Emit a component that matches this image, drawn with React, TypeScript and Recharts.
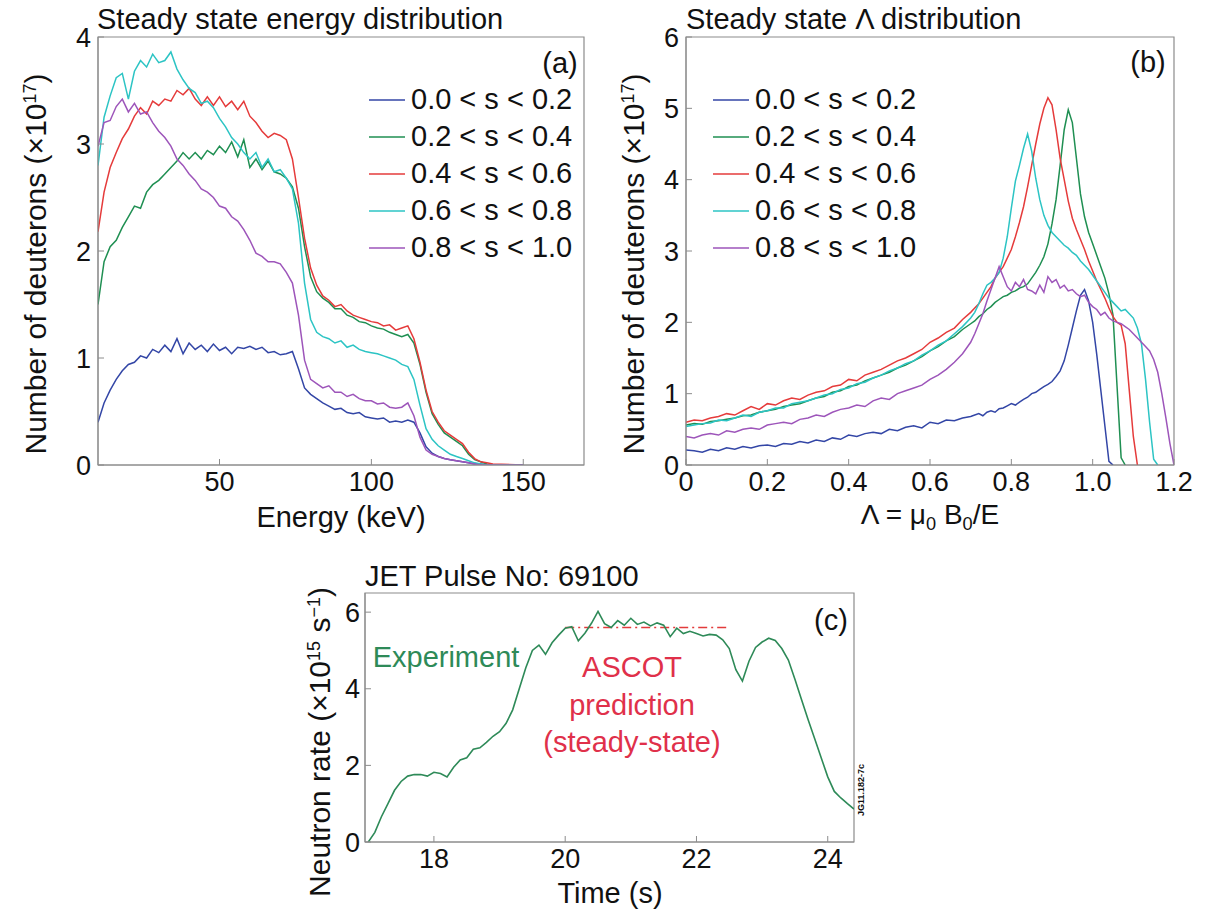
import React from "react";
import { LineChart, Line, XAxis, YAxis, ReferenceArea, ReferenceLine, Legend } from "recharts";

const FONT = "'Liberation Sans', Arial, Helvetica, sans-serif";
const AXIS_GREY = "#8c8c8c";

const SERIES_NAMES = ["0.0 < s < 0.2", "0.2 < s < 0.4", "0.4 < s < 0.6", "0.6 < s < 0.8", "0.8 < s < 1.0"];
const SERIES_COLORS = ["#3346a6", "#1f8f52", "#e53b3b", "#2cc4c4", "#9d55ba"];

// (a) steady state energy distribution, keV
const energyKeV = [
  10, 12, 14, 16, 18, 20, 22, 24, 26, 28, 30, 32, 34, 36, 38, 40, 42, 44, 46, 48,
  50, 52, 54, 56, 58, 60, 62, 64, 66, 68, 70, 72, 74, 76, 78, 80, 82, 84, 86, 88,
  90, 92, 94, 96, 98, 100, 102, 104, 106, 108, 110, 112, 114, 116, 118, 120, 122, 124, 126, 128,
  130, 132, 134, 136, 138, 140, 150,
];
const energyS1 = [
  0.40, 0.58, 0.70, 0.80, 0.88, 0.94, 0.96, 1.02, 1.00, 1.08,
  1.05, 1.12, 1.06, 1.18, 1.04, 1.14, 1.08, 1.12, 1.06, 1.13,
  1.07, 1.10, 1.04, 1.10, 1.09, 1.11, 1.08, 1.10, 1.05, 1.06,
  1.03, 1.04, 1.06, 0.90, 0.72, 0.66, 0.62, 0.58, 0.55, 0.52,
  0.53, 0.49, 0.48, 0.49, 0.45, 0.44, 0.43, 0.44, 0.40, 0.41,
  0.40, 0.42, 0.40, 0.30, 0.17, 0.11, 0.08, 0.06, 0.05, 0.04,
  0.03, 0.02, 0.01, 0.01, 0.0, 0.0, 0,
];
const energyS2 = [
  1.50, 1.90, 2.04, 2.10, 2.22, 2.32, 2.42, 2.40, 2.55, 2.62,
  2.66, 2.72, 2.78, 2.84, 2.92, 2.86, 2.92, 2.86, 2.94, 2.90,
  2.98, 2.92, 3.02, 2.88, 3.04, 2.78, 2.86, 2.76, 2.84, 2.74,
  2.72, 2.68, 2.60, 2.40, 2.04, 1.76, 1.62, 1.56, 1.52, 1.46,
  1.46, 1.40, 1.38, 1.34, 1.33, 1.30, 1.28, 1.27, 1.24, 1.22,
  1.20, 1.22, 1.14, 0.94, 0.68, 0.48, 0.38, 0.30, 0.26, 0.22,
  0.18, 0.10, 0.05, 0.03, 0.01, 0.0, 0,
];
const energyS3 = [
  2.18, 2.55, 2.78, 2.92, 3.05, 3.14, 3.26, 3.34, 3.28, 3.40,
  3.36, 3.42, 3.40, 3.50, 3.46, 3.52, 3.42, 3.36, 3.44, 3.36,
  3.44, 3.35, 3.40, 3.32, 3.40, 3.26, 3.20, 3.12, 3.06, 3.10,
  3.08, 3.04, 2.86, 2.50, 2.12, 1.84, 1.68, 1.58, 1.54, 1.48,
  1.50, 1.44, 1.40, 1.38, 1.36, 1.34, 1.33, 1.30, 1.31, 1.26,
  1.28, 1.30, 1.18, 0.96, 0.70, 0.50, 0.40, 0.32, 0.28, 0.24,
  0.20, 0.12, 0.06, 0.03, 0.02, 0.01, 0,
];
const energyS4 = [
  2.80, 3.25, 3.45, 3.62, 3.66, 3.42, 3.68, 3.78, 3.72, 3.84,
  3.76, 3.78, 3.86, 3.70, 3.60, 3.52, 3.48, 3.38, 3.40, 3.34,
  3.24, 3.16, 3.06, 3.00, 2.92, 2.86, 2.92, 2.78, 2.86, 2.74,
  2.76, 2.68, 2.58, 2.26, 1.70, 1.36, 1.24, 1.20, 1.18, 1.14,
  1.16, 1.10, 1.12, 1.08, 1.06, 1.05, 1.04, 1.02, 1.00, 0.98,
  0.94, 0.92, 0.80, 0.56, 0.34, 0.24, 0.18, 0.14, 0.10, 0.08,
  0.06, 0.04, 0.02, 0.01, 0.0, 0.0, 0,
];
const energyS5 = [
  2.98, 3.20, 3.22, 3.35, 3.42, 3.30, 3.38, 3.28, 3.30, 3.20,
  3.12, 3.06, 2.98, 2.86, 2.80, 2.72, 2.66, 2.58, 2.55, 2.50,
  2.42, 2.40, 2.32, 2.28, 2.20, 2.10, 1.98, 1.95, 1.90, 1.90,
  1.88, 1.80, 1.70, 1.40, 0.98, 0.80, 0.76, 0.72, 0.74, 0.68,
  0.68, 0.64, 0.66, 0.62, 0.60, 0.60, 0.57, 0.58, 0.54, 0.53,
  0.54, 0.58, 0.46, 0.26, 0.14, 0.10, 0.08, 0.06, 0.05, 0.04,
  0.03, 0.02, 0.01, 0.0, 0.0, 0.0, 0,
];
const energyTicks = [50, 100, 150];
const energyYTicks = [0, 1, 2, 3, 4];

// (b) steady state pitch (Lambda) distribution
const lambdaGrid = [
  0, 0.02, 0.04, 0.06, 0.08, 0.1, 0.12, 0.14, 0.16, 0.18, 0.2, 0.22, 0.24, 0.26, 0.28, 0.3, 0.32, 0.34,
  0.36, 0.38, 0.4, 0.42, 0.44, 0.46, 0.48, 0.5, 0.52, 0.54, 0.56, 0.58, 0.6, 0.62, 0.64, 0.66, 0.68, 0.7,
  0.71, 0.72, 0.73, 0.74, 0.75, 0.76, 0.77, 0.78, 0.79, 0.8,
  0.81, 0.82, 0.83, 0.84, 0.85, 0.86, 0.87, 0.88, 0.89, 0.9,
  0.91, 0.92, 0.93, 0.94, 0.95, 0.96, 0.97, 0.98, 0.99, 1.0,
  1.01, 1.02, 1.03, 1.04, 1.05, 1.06, 1.07, 1.08, 1.09, 1.1,
  1.11, 1.12, 1.13, 1.14, 1.15, 1.16, 1.17, 1.18, 1.19, 1.2,
];
const lambdaS1 = [
  0.21, 0.20, 0.18, 0.22, 0.20, 0.24, 0.22, 0.26, 0.24, 0.27, 0.28, 0.26, 0.30, 0.29, 0.33, 0.31, 0.35, 0.33,
  0.38, 0.36, 0.42, 0.40, 0.44, 0.46, 0.44, 0.50, 0.48, 0.53, 0.55, 0.52, 0.60, 0.58, 0.63, 0.62, 0.66, 0.68,
  0.70, 0.72, 0.69, 0.74, 0.76, 0.74, 0.79, 0.80, 0.83, 0.86,
  0.84, 0.88, 0.92, 0.95, 1.00, 1.02, 1.06, 1.10, 1.13, 1.17,
  1.24, 1.32, 1.46, 1.68, 1.92, 2.16, 2.38, 2.46, 2.30, 2.00,
  1.55, 1.05, 0.55, 0.05, 0, null, null, null, null, null,
  null, null, null, null, null, null, null, null, null, null,
];
const lambdaS2 = [
  0.56, 0.58, 0.57, 0.61, 0.62, 0.64, 0.66, 0.69, 0.70, 0.74, 0.76, 0.78, 0.82, 0.84, 0.86, 0.90, 0.94, 0.96,
  1.02, 1.04, 1.10, 1.12, 1.18, 1.22, 1.26, 1.30, 1.36, 1.40, 1.46, 1.52, 1.60, 1.66, 1.74, 1.80, 1.90, 1.98,
  2.02, 2.08, 2.12, 2.18, 2.22, 2.28, 2.32, 2.36, 2.38, 2.42,
  2.44, 2.48, 2.50, 2.54, 2.62, 2.70, 2.80, 2.92, 3.10, 3.38,
  3.72, 4.20, 4.70, 4.98, 4.80, 4.30, 3.80, 3.48, 3.26, 3.10,
  2.94, 2.78, 2.62, 2.40, 2.10, 1.10, 0.10, 0, null, null,
  null, null, null, null, null, null, null, null, null, null,
];
const lambdaS3 = [
  0.60, 0.63, 0.62, 0.66, 0.68, 0.72, 0.70, 0.76, 0.82, 0.78, 0.86, 0.84, 0.90, 0.94, 0.92, 0.98, 1.02, 1.04,
  1.10, 1.12, 1.20, 1.18, 1.26, 1.30, 1.34, 1.40, 1.46, 1.50, 1.56, 1.62, 1.72, 1.78, 1.86, 1.92, 2.04, 2.14,
  2.20, 2.26, 2.34, 2.42, 2.50, 2.62, 2.70, 2.78, 2.90, 3.02,
  3.20, 3.40, 3.62, 3.90, 4.20, 4.50, 4.78, 5.00, 5.15, 5.05,
  4.70, 4.30, 4.00, 3.70, 3.46, 3.30, 3.16, 3.02, 2.86, 2.72,
  2.58, 2.46, 2.34, 2.20, 2.08, 2.00, 1.96, 1.70, 1.05, 0.40,
  0, null, null, null, null, null, null, null, null, null,
];
const lambdaS4 = [
  0.54, 0.56, 0.58, 0.59, 0.63, 0.62, 0.66, 0.70, 0.68, 0.74, 0.76, 0.80, 0.80, 0.86, 0.88, 0.90, 0.94, 0.98,
  1.00, 1.06, 1.08, 1.14, 1.16, 1.22, 1.26, 1.32, 1.36, 1.42, 1.46, 1.54, 1.60, 1.68, 1.74, 1.84, 1.94, 2.06,
  2.14, 2.26, 2.40, 2.52, 2.56, 2.62, 2.70, 2.90, 3.20, 3.60,
  3.98, 4.20, 4.44, 4.64, 4.40, 4.02, 3.72, 3.50, 3.36, 3.26,
  3.20, 3.14, 3.08, 3.04, 2.98, 2.94, 2.86, 2.80, 2.74, 2.66,
  2.58, 2.50, 2.42, 2.34, 2.28, 2.22, 2.16, 2.18, 2.12, 2.06,
  1.92, 1.70, 1.20, 0.60, 0.08, 0, null, null, null, null,
];
const lambdaS5 = [
  0.40, 0.38, 0.42, 0.44, 0.42, 0.48, 0.46, 0.50, 0.52, 0.50, 0.56, 0.58, 0.60, 0.58, 0.64, 0.66, 0.70, 0.68,
  0.74, 0.78, 0.80, 0.84, 0.82, 0.90, 0.94, 0.92, 1.00, 1.04, 1.08, 1.12, 1.20, 1.26, 1.34, 1.44, 1.56, 1.72,
  1.84, 1.98, 2.12, 2.30, 2.46, 2.62, 2.78, 2.64, 2.50, 2.44,
  2.56, 2.50, 2.60, 2.46, 2.44, 2.40, 2.52, 2.42, 2.64, 2.56,
  2.60, 2.48, 2.52, 2.44, 2.46, 2.40, 2.36, 2.38, 2.28, 2.22,
  2.18, 2.10, 2.14, 2.06, 2.02, 2.00, 1.98, 1.94, 1.90, 1.84,
  1.78, 1.72, 1.66, 1.60, 1.48, 1.30, 1.00, 0.66, 0.30, 0.0,
];
const lambdaTicks = [0, 0.2, 0.4, 0.6, 0.8, 1.0, 1.2];
const lambdaYTicks = [0, 1, 2, 3, 4, 5, 6];

// (c) JET pulse 69100 neutron rate
const pulseTime = [
  17.0, 17.1, 17.2, 17.3, 17.4, 17.5, 17.6, 17.7, 17.8, 17.9,
  18.0, 18.1, 18.2, 18.3, 18.4, 18.5, 18.6, 18.7, 18.8, 18.9,
  19.0, 19.1, 19.2, 19.3, 19.4, 19.5, 19.6, 19.7, 19.8, 19.9,
  20.0, 20.1, 20.2, 20.3, 20.4, 20.5, 20.6, 20.7, 20.8, 20.9,
  21.0, 21.1, 21.2, 21.3, 21.4, 21.5, 21.6, 21.7, 21.8, 21.9,
  22.0, 22.1, 22.2, 22.3, 22.4, 22.5, 22.6, 22.7, 22.8, 22.9,
  23.0, 23.1, 23.2, 23.3, 23.4, 23.5, 23.6, 23.7, 23.8, 23.9,
  24.0, 24.1, 24.2, 24.3, 24.4,
];
const neutronRate = [
  0.00, 0.25, 0.66, 1.00, 1.35, 1.58, 1.72, 1.76, 1.76, 1.72,
  1.82, 1.79, 1.70, 1.95, 2.14, 2.20, 2.42, 2.46, 2.60, 2.76,
  2.88, 3.10, 3.45, 4.00, 4.55, 5.00, 5.14, 4.90, 5.20, 5.40,
  5.58, 5.62, 5.25, 5.45, 5.71, 6.02, 5.70, 5.60, 5.78, 5.66,
  5.84, 5.68, 5.74, 5.64, 5.72, 5.66, 5.36, 5.58, 5.44, 5.50,
  5.44, 5.38, 5.42, 5.40, 5.28, 5.05, 4.50, 4.20, 4.72, 5.08,
  5.22, 5.32, 5.26, 5.05, 4.75, 4.25, 3.72, 3.20, 2.70, 2.20,
  1.70, 1.32, 1.15, 1.00, 0.86,
];
const ascotTime = [20.0, 22.5];
const ascotRate = [5.6, 5.6];
const pulseTicks = [18, 20, 22, 24];
const pulseYTicks = [0, 2, 4, 6];

type Row = { x: number; [key: string]: number | null };

const buildRows = (xs: number[], series: (number | null)[][]): Row[] =>
  xs.map((x, i) => {
    const row: Row = { x };
    series.forEach((s, k) => {
      row[`s${k}`] = s[i] ?? null;
    });
    return row;
  });

const tickStyle = { fill: "#111", fontSize: 27, fontFamily: FONT };

const SeriesLegend = ({ payload }: { payload?: { value: string; color: string }[] }) => (
  <div style={{ fontFamily: FONT, fontSize: 29, color: "#111" }}>
    {(payload ?? []).map((p) => (
      <div key={p.value} style={{ display: "flex", alignItems: "center", height: 37, whiteSpace: "nowrap" }}>
        <svg width={36} height={4} style={{ marginRight: 6 }}>
          <line x1={0} y1={2} x2={36} y2={2} stroke={p.color} strokeWidth={1.6} />
        </svg>
        <span>{p.value}</span>
      </div>
    ))}
  </div>
);

type DistProps = {
  left: number;
  rows: Row[];
  xDomain: [number, number];
  yDomain: [number, number];
  xTicks: number[];
  yTicks: number[];
  yAxisWidth: number;
  rightMargin: number;
  legendLeft: number;
  xFormat?: (v: number) => string;
};

function DistributionPanel({ left, rows, xDomain, yDomain, xTicks, yTicks, yAxisWidth, rightMargin, legendLeft, xFormat }: DistProps) {
  return (
    <div style={{ position: "absolute", left, top: 0 }}>
      <LineChart width={600} height={530} data={rows} margin={{ top: 37, right: rightMargin, left: 0, bottom: 0 }}>
        <XAxis
          dataKey="x"
          type="number"
          domain={xDomain}
          ticks={xTicks}
          allowDataOverflow
          height={65}
          tick={tickStyle}
          tickFormatter={xFormat}
          tickSize={-6}
          tickMargin={13}
          stroke={AXIS_GREY}
        />
        <YAxis
          type="number"
          domain={yDomain}
          ticks={yTicks}
          allowDataOverflow
          width={yAxisWidth}
          tick={tickStyle}
          tickSize={-6}
          tickMargin={13}
          stroke={AXIS_GREY}
        />
        <ReferenceArea x1={xDomain[0]} x2={xDomain[1]} y1={yDomain[0]} y2={yDomain[1]} fill="none" stroke={AXIS_GREY} strokeWidth={1.2} />
        {SERIES_NAMES.map((name, k) => (
          <Line
            key={name}
            type="linear"
            dataKey={`s${k}`}
            name={name}
            stroke={SERIES_COLORS[k]}
            strokeWidth={1.5}
            dot={false}
            isAnimationActive={false}
          />
        ))}
        <Legend
          layout="vertical"
          align="center"
          verticalAlign="middle"
          content={<SeriesLegend />}
          wrapperStyle={{ left: legendLeft, top: 81, width: 230, height: 190 }}
        />
      </LineChart>
    </div>
  );
}

const Txt = ({ x, y, size = 29, color = "#111", rotate = 0, anchor = "center", children }: {
  x: number; y: number; size?: number; color?: string; rotate?: number; anchor?: "center" | "left"; children: React.ReactNode;
}) => (
  <div
    style={{
      position: "absolute",
      left: x,
      top: y,
      transform: `translate(${anchor === "center" ? "-50%" : "0"}, -50%) rotate(${rotate}deg)`,
      fontFamily: FONT,
      fontSize: size,
      color,
      lineHeight: 1,
      whiteSpace: "nowrap",
    }}
  >
    {children}
  </div>
);

export default function App() {
  const energyRows = buildRows(energyKeV, [energyS1, energyS2, energyS3, energyS4, energyS5]);
  const lambdaRows = buildRows(lambdaGrid, [lambdaS1, lambdaS2, lambdaS3, lambdaS4, lambdaS5]);
  const pulseRows = buildRows(pulseTime, [neutronRate]);
  const lambdaFmt = (v: number) => (v === 0 ? "0" : v.toFixed(1));
  const sup = { fontSize: "0.6em", verticalAlign: "0.55em" };

  return (
    <div style={{ position: "absolute", left: 0, top: 0, width: 1209, height: 909, overflow: "hidden", background: "#fff" }}>
      <DistributionPanel
        left={0}
        rows={energyRows}
        xDomain={[10, 170]}
        yDomain={[0, 4]}
        xTicks={energyTicks}
        yTicks={energyYTicks}
        yAxisWidth={98}
        rightMargin={16}
        legendLeft={369}
      />
      <DistributionPanel
        left={600}
        rows={lambdaRows}
        xDomain={[0, 1.2]}
        yDomain={[0, 6]}
        xTicks={lambdaTicks}
        yTicks={lambdaYTicks}
        yAxisWidth={86}
        rightMargin={26}
        legendLeft={113}
        xFormat={lambdaFmt}
      />

      <div style={{ position: "absolute", left: 280, top: 560 }}>
        <LineChart width={600} height={349} data={pulseRows} margin={{ top: 33, right: 26, left: 0, bottom: 0 }}>
          <XAxis
            dataKey="x"
            type="number"
            domain={[16.95, 24.4]}
            ticks={pulseTicks}
            allowDataOverflow
            height={67}
            tick={tickStyle}
            tickSize={-6}
            tickMargin={13}
            stroke={AXIS_GREY}
          />
          <YAxis
            type="number"
            domain={[0, 6.5]}
            ticks={pulseYTicks}
            allowDataOverflow
            width={85}
            tick={tickStyle}
            tickSize={-6}
            tickMargin={11}
            stroke={AXIS_GREY}
          />
          <ReferenceArea x1={16.95} x2={24.4} y1={0} y2={6.5} fill="none" stroke={AXIS_GREY} strokeWidth={1.2} />
          <ReferenceLine
            segment={[
              { x: ascotTime[0], y: ascotRate[0] },
              { x: ascotTime[1], y: ascotRate[1] },
            ]}
            stroke="#e23b3b"
            strokeWidth={1.5}
            strokeDasharray="9 4 2 4"
          />
          <Line
            type="linear"
            dataKey="s0"
            name="Experiment"
            stroke="#2e8a58"
            strokeWidth={1.6}
            dot={false}
            isAnimationActive={false}
          />
        </LineChart>
      </div>

      <Txt x={97} y={19} anchor="left">Steady state energy distribution</Txt>
      <Txt x={686} y={19} anchor="left">Steady state Λ distribution</Txt>
      <Txt x={560} y={63}>(a)</Txt>
      <Txt x={1148} y={62}>(b)</Txt>
      <Txt x={36} y={264} size={30} rotate={-90}>
        Number of deuterons (×10<span style={sup}>17</span>)
      </Txt>
      <Txt x={634} y={264} size={30} rotate={-90}>
        Number of deuterons (×10<span style={sup}>17</span>)
      </Txt>
      <Txt x={341} y={517}>Energy (keV)</Txt>
      <Txt x={930} y={517} size={28}>
        Λ = μ<sub style={{ fontSize: "0.65em" }}>0</sub> B<sub style={{ fontSize: "0.65em" }}>0</sub>/E
      </Txt>

      <Txt x={365} y={576} anchor="left">JET Pulse No: 69100</Txt>
      <Txt x={831} y={620}>(c)</Txt>
      <Txt x={446} y={657} color="#2e8a58">Experiment</Txt>
      <Txt x={632} y={667} color="#e0304a">ASCOT</Txt>
      <Txt x={632} y={705} color="#e0304a">prediction</Txt>
      <Txt x={632} y={742} color="#e0304a">(steady-state)</Txt>
      <Txt x={320} y={742} size={30} rotate={-90}>
        Neutron rate (×10<span style={sup}>15</span> s<span style={sup}>−1</span>)
      </Txt>
      <Txt x={610} y={893}>Time (s)</Txt>
      <Txt x={861} y={790} size={9} rotate={-90}>
        <b>JG11.182-7c</b>
      </Txt>
    </div>
  );
}
